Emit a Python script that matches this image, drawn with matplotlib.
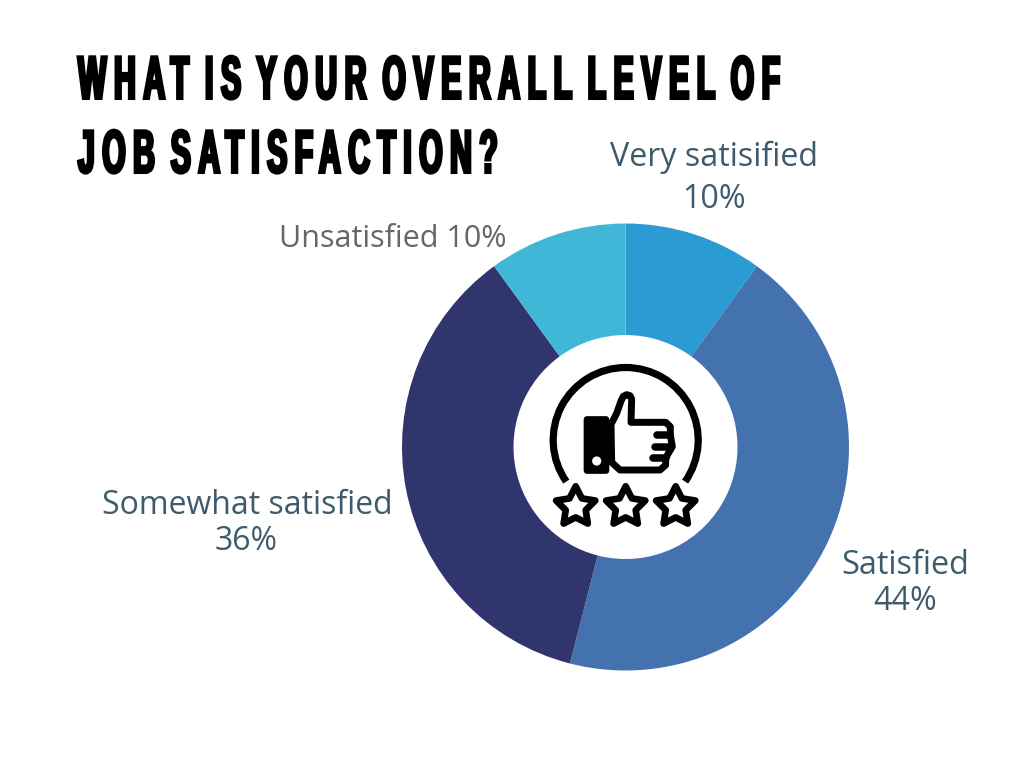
import matplotlib
matplotlib.use("Agg")
import matplotlib.pyplot as plt
from matplotlib.patches import Circle, Arc, FancyBboxPatch, Polygon
from matplotlib.path import Path
from matplotlib.transforms import IdentityTransform
from matplotlib import patheffects as pe
import numpy as np

categories = ["Very satisified", "Satisfied", "Somewhat satisfied", "Unsatisfied"]
values = [10, 44, 36, 10]
colors = ["#2A9BD3", "#4472AE", "#31356E", "#40B7D6"]
title_lines = ["WHAT IS YOUR OVERALL LEVEL OF", "JOB SATISFACTION?"]


class CondensedSpaced(pe.AbstractPathEffect):
    """Stretch a line of text (tall and narrow look), then space its glyphs to a target width."""
    def __init__(self, x0, width, sx, sy, stroke):
        super().__init__()
        self.x0, self.width, self.sx, self.sy, self.stroke = x0, width, sx, sy, stroke

    def draw_path(self, renderer, gc, tpath, affine, rgbFace=None):
        v = affine.transform(tpath.vertices).copy()
        base = affine.transform(np.array([[0.0, 0.0]]))[0, 1]
        v[:, 1] = base + (v[:, 1] - base) * self.sy
        c = tpath.codes
        starts = list(np.where(c == Path.MOVETO)[0]) + [len(c)]
        left = v[:, 0].min()
        v[:, 0] = (v[:, 0] - left) * self.sx
        subs = sorted(((v[a:b, 0].min(), v[a:b, 0].max(), a, b)
                       for a, b in zip(starts[:-1], starts[1:])), key=lambda s: s[0])
        groups = []
        for s in subs:
            if groups:
                g = groups[-1]
                ov = min(g[1], s[1]) - max(g[0], s[0])
                if ov > 0.5 * min(g[1] - g[0], s[1] - s[0]):
                    g[0] = min(g[0], s[0]); g[1] = max(g[1], s[1]); g[2].append(s[2:])
                    continue
            groups.append([s[0], s[1], [s[2:]]])
        total = v[:, 0].max()
        gap = (self.width - total) / max(len(groups) - 1, 1)
        for i, g in enumerate(groups):
            for a, b in g[2]:
                v[a:b, 0] += i * gap
        v[:, 0] += self.x0
        gc0 = renderer.new_gc()
        gc0.copy_properties(gc)
        gc0.set_linewidth(self.stroke)
        gc0.set_joinstyle("miter")
        renderer.draw_path(gc0, Path(v, c), IdentityTransform(), rgbFace)
        gc0.restore()


W, H = 1024, 768
fig = plt.figure(figsize=(W/100, H/100), dpi=100, facecolor="white")
bg = fig.add_axes([0, 0, 1, 1]); bg.set_xlim(0, W); bg.set_ylim(H, 0); bg.axis("off")

cx, cy, R = 625.5, 447, 223.5
ax = fig.add_axes([(cx-R)/W, 1-(cy+R)/H, 2*R/W, 2*R/H])
ax.pie(values, colors=colors, startangle=90, counterclock=False, radius=1,
       wedgeprops=dict(width=1-112/223.5, linewidth=0))
ax.set_xlim(-1, 1); ax.set_ylim(-1, 1); ax.set_aspect("equal")

# title
for line, base, width in zip(title_lines, [98.5, 172.5], [701, 418]):
    t = bg.text(77, base, line, fontsize=28.5, fontweight="bold", family="Liberation Sans",
                color="black", va="baseline", ha="left")
    t.set_path_effects([CondensedSpaced(78, width, 0.76, 1.53, 2.2)])

lab = "#3E5B6C"
kw = dict(family="Open Sans", ha="center", va="center")
bg.text(714.5, 157, categories[0], color=lab, fontsize=23.2, **kw)
bg.text(714, 200, f"{values[0]}%", color=lab, fontsize=23.2, **kw)
bg.text(905.5, 565, categories[1], color=lab, fontsize=23.4, **kw)
bg.text(905, 601, f"{values[1]}%", color=lab, fontsize=23.2, **kw)
bg.text(247.5, 505, categories[2], color=lab, fontsize=23, **kw)
bg.text(246, 542, f"{values[2]}%", color=lab, fontsize=23, **kw)
bg.text(393, 239, f"{categories[3]} {values[3]}%", color="#666666", fontsize=22, **kw)

# icon
bg.add_patch(Arc((625.7, 440), 145, 145, theta1=145, theta2=35, lw=5.2, color="black"))


def hz(points):
    return np.array(points, float) / 3 + np.array([575, 385])


bg.add_patch(FancyBboxPatch((584, 416.5), 25, 57, boxstyle="round,pad=0,rounding_size=3.5",
                            fc="black", ec="black", lw=0.5))
bg.add_patch(Circle((596.7, 461), 4.6, fc="white", ec="none"))
hand = hz([(108, 118), (125, 85), (138, 48), (145, 34), (155, 29), (165, 32), (170, 42),
           (168, 112), (272, 112), (286, 125), (286, 150), (292, 185), (280, 205),
           (272, 220), (272, 240), (255, 255), (135, 255), (110, 232)])
bg.add_patch(Polygon(hand, closed=True, fc="white", ec="black", lw=5.0, joinstyle="round"))
for a, b in [((245, 150), (285, 150)), ((240, 185), (288, 185)), ((235, 220), (272, 220))]:
    seg = hz([a, b])
    bg.plot(seg[:, 0], seg[:, 1], color="black", lw=5.4, solid_capstyle="round")


def star(c, y, ro=20.6, ri=10.5):
    a = np.arange(10)*np.pi/5 - np.pi/2
    rr = np.where(np.arange(10) % 2 == 0, ro, ri)
    return np.c_[c+rr*np.cos(a), y+rr*np.sin(a)]


for c in [575.7, 625.7, 675.7]:
    bg.add_patch(Polygon(star(c, 506.9), closed=True, fc="white", ec="black", lw=4.8, joinstyle="round"))

fig.savefig("out.png", dpi=100)
